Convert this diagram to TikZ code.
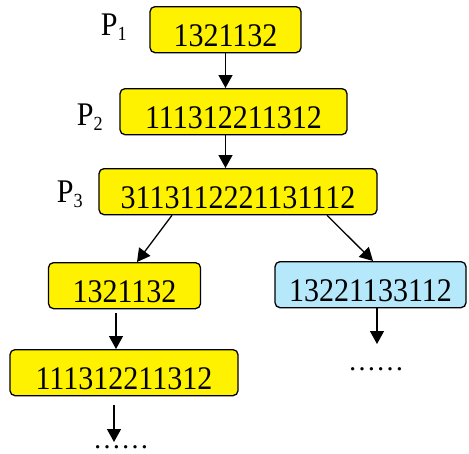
\documentclass[tikz,border=0pt]{standalone}
\usepackage{fontspec}
\setmainfont{Liberation Serif}
\newfontfamily\narrowserif[FakeStretch=0.91]{Liberation Serif}
\usetikzlibrary{arrows.meta}
\definecolor{boxblue}{RGB}{180,232,250}
\newcommand{\pname}[1]{P\raisebox{-5pt}{\fontsize{20}{20}\selectfont #1}}

\begin{document}
\begin{tikzpicture}[x=1pt, y=-1pt,
  seq/.style={draw, line width=1.3pt, rounded corners=5pt, fill=yellow, anchor=north,
    inner sep=0pt, text height=40pt, text depth=6pt, font=\narrowserif\fontsize{33}{33}\selectfont},
  lbl/.style={anchor=base east, inner sep=0pt, font=\narrowserif\fontsize{33}{33}\selectfont},
  more/.style={anchor=base, inner sep=0pt, font=\fontsize{28}{28}\selectfont},
  link/.style={-{Triangle[length=13pt,width=14pt]}, line width=1.3pt}]
\useasboundingbox (0,0) rectangle (469,453);

% generations P1 .. P3
\node[seq, minimum width=151pt] (p1) at (225.5,6) {1321132};
\node[seq, minimum width=227pt] (p2) at (233.5,88) {111312211312};
\node[seq, minimum width=278pt] (p3) at (238,168) {3113112221131112};
\node[lbl] (l1) at (127,35) {\pname{1}};
\node[lbl] (l2) at (103,125) {\pname{2}};
\node[lbl] (l3) at (83,202) {\pname{3}};

% the two branches
\node[seq, minimum width=152pt] (left1) at (124.5,262) {1321132};
\node[seq, minimum width=191pt, fill=boxblue] (right1) at (370.5,261) {13221133112};
\node[seq, minimum width=228pt] (left2) at (124,349) {111312211312};

\node[more] (ldots) at (121,448) {……};
\node[more] (rdots) at (376,370) {……};
\coordinate (lend) at (114,442);
\coordinate (rend) at (377,344);

\draw[link] (p1.south) -- (p1.south |- p2.north);
\draw[link] (p1.south |- p2.south) -- (p1.south |- p3.north);
\draw[link] ([xshift=-66pt]p3.south) -- ([xshift=12.5pt]left1.north);
\draw[link] ([xshift=89pt]p3.south) -- ([xshift=2.5pt]right1.north);
\draw[link] ([xshift=-8.5pt,yshift=-4pt]left1.south) -- ([xshift=-8pt]left2.north);
\draw[link] ([xshift=-10pt,yshift=-9pt]left2.south) -- (lend);
\draw[link] ([xshift=6.5pt]right1.south) -- (rend);
\end{tikzpicture}
\end{document}
